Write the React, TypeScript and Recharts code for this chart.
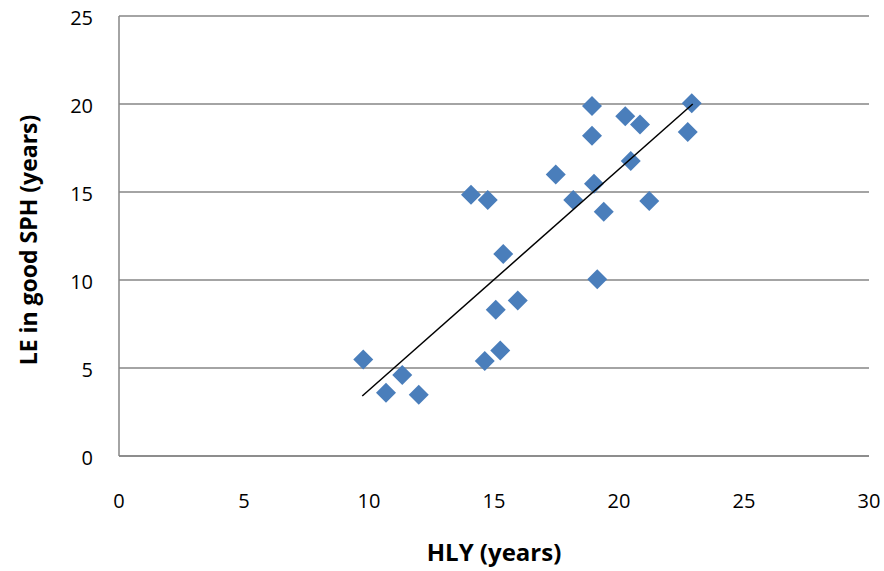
import React from 'react';
import { ScatterChart, Scatter, XAxis, YAxis, CartesianGrid } from 'recharts';

const hlyYears = [9.77, 10.68, 11.33, 11.99, 14.08, 14.75, 14.63, 15.25, 15.07, 15.37, 15.95, 17.47, 18.17, 19.0, 19.39, 19.13, 18.92, 18.92, 20.25, 20.84, 20.47, 21.21, 22.91, 22.75];
const leGoodSph = [5.49, 3.6, 4.6, 3.48, 14.85, 14.55, 5.4, 6.0, 8.31, 11.48, 8.84, 16.0, 14.55, 15.47, 13.88, 10.04, 19.89, 18.2, 19.3, 18.84, 16.76, 14.49, 20.04, 18.41];
const trendX = [9.73, 22.95];
const trendY = [3.41, 20.0];
const xTicks = [0, 5, 10, 15, 20, 25, 30];
const yTicks = [0, 5, 10, 15, 20, 25];

const points = hlyYears.map((x, i) => ({ x, y: leGoodSph[i] }));
const trend = trendX.map((x, i) => ({ x, y: trendY[i] }));

const FONT = '"Open Sans", "Noto Sans", sans-serif';
const GRID = '#868686';

const Diamond = (props: any) => {
  const { cx, cy } = props;
  if (cx == null || cy == null) return <g />;
  const h = 10;
  return (
    <polygon
      points={`${cx},${cy - h} ${cx + h},${cy} ${cx},${cy + h} ${cx - h},${cy}`}
      fill="#4A7EBB"
    />
  );
};

const NoShape = () => <g />;

export default function App() {
  return (
    <div style={{ position: 'absolute', left: 0, top: 0, background: '#fff' }}>
      <ScatterChart width={884} height={571} margin={{ top: 16, right: 15, bottom: 0, left: 0 }}>
        <CartesianGrid vertical={false} stroke={GRID} strokeWidth={1.5} />
        <XAxis
          type="number"
          dataKey="x"
          domain={[0, 30]}
          ticks={xTicks}
          height={115}
          tickLine={false}
          tickSize={0}
          tickMargin={38}
          axisLine={{ stroke: GRID, strokeWidth: 1.5 }}
          tick={{ fill: '#000', fontSize: 20, fontFamily: FONT }}
          label={{
            value: 'HLY (years)',
            position: 'insideBottom',
            offset: 10,
            style: { fill: '#000', fontSize: 24, fontWeight: 'bold', fontFamily: FONT },
          }}
        />
        <YAxis
          type="number"
          dataKey="y"
          domain={[0, 25]}
          ticks={yTicks}
          width={119}
          tickLine={false}
          tickSize={0}
          tickMargin={26}
          axisLine={{ stroke: GRID, strokeWidth: 1.5 }}
          tick={{ fill: '#000', fontSize: 20, fontFamily: FONT, dy: 2 }}
          label={{
            content: () => (
              <text
                x={28}
                y={240}
                transform="rotate(-90 28 240)"
                textAnchor="middle"
                dominantBaseline="central"
                fill="#000"
                fontSize={23}
                fontWeight="bold"
                fontFamily={FONT}
              >
                LE in good SPH (years)
              </text>
            ),
          }}
        />
        <Scatter data={points} shape={Diamond} isAnimationActive={false} />
        <Scatter
          data={trend}
          shape={NoShape}
          line={{ stroke: '#000', strokeWidth: 1.5 }}
          isAnimationActive={false}
        />
      </ScatterChart>
    </div>
  );
}
